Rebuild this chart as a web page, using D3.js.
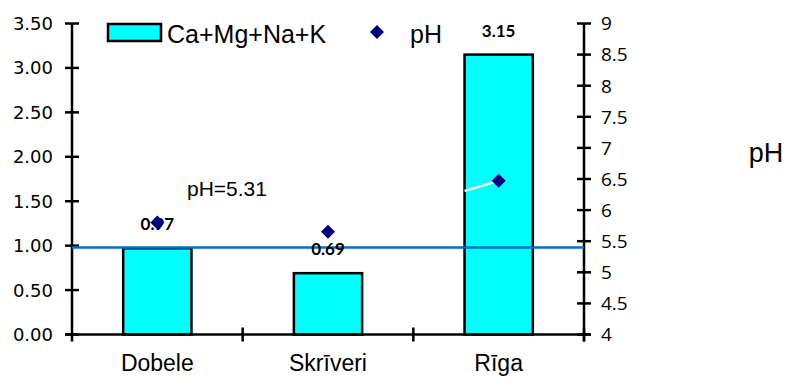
<!DOCTYPE html>
<html><head><meta charset="utf-8">
<script src="https://cdn.jsdelivr.net/npm/d3@7"></script>
<style>html,body{margin:0;padding:0;background:#fff;}svg{display:block;}</style>
</head><body>
<svg id="c" width="787" height="378"></svg>
<script>
const categories = ["Dobele", "Skrīveri", "Rīga"];
const cationValues = [0.97, 0.69, 3.15];
const phValues = [5.80, 5.65, 6.47];
const leftTicks = [0, 0.5, 1, 1.5, 2, 2.5, 3, 3.5];
const rightTicks = [4, 4.5, 5, 5.5, 6, 6.5, 7, 7.5, 8, 8.5, 9];
const refPh = 5.40;
const refLabel = "pH=5.31";
const seriesNames = ["Ca+Mg+Na+K", "pH"];

const svg = d3.select("#c");
const L = 72, R = 584, T = 23.5, B = 334.5;
const x = d3.scaleBand().domain(categories).range([L, R]).padding(0);
const yL = d3.scaleLinear().domain([0, 3.5]).range([B, T]);
const yR = d3.scaleLinear().domain([4, 9]).range([B, T]);
const bw = x.bandwidth() * 0.4;

// bars
svg.selectAll("rect.bar").data(categories).enter().append("rect")
  .attr("x", d => x(d) + (x.bandwidth() - bw) / 2)
  .attr("y", (d, i) => yL(cationValues[i]))
  .attr("width", bw)
  .attr("height", (d, i) => B - yL(cationValues[i]))
  .attr("fill", "#00ffff").attr("stroke", "#000").attr("stroke-width", 2.5);

// axes lines
const ax = svg.append("g").attr("stroke", "#000").attr("stroke-width", 2.5);
ax.append("line").attr("x1", L).attr("x2", L).attr("y1", T).attr("y2", B + 7);
ax.append("line").attr("x1", R).attr("x2", R).attr("y1", T).attr("y2", B + 7);
ax.append("line").attr("x1", L - 7).attr("x2", R + 7).attr("y1", B).attr("y2", B);
leftTicks.forEach(t => ax.append("line").attr("x1", L - 7).attr("x2", L + 7).attr("y1", yL(t)).attr("y2", yL(t)));
rightTicks.forEach(t => ax.append("line").attr("x1", R - 7).attr("x2", R + 7).attr("y1", yR(t)).attr("y2", yR(t)));
categories.forEach(c => { const xx = x(c) + x.bandwidth(); ax.append("line").attr("x1", xx).attr("x2", xx).attr("y1", B - 7).attr("y2", B + 7); });

// tick labels
svg.selectAll("text.lt").data(leftTicks).enter().append("text")
  .attr("x", 53).attr("y", d => yL(d)).attr("dy", "0.36em").attr("text-anchor", "end")
  .attr("font-family", "DejaVu Sans").attr("font-size", 18).text(d => d.toFixed(2));
svg.selectAll("text.rt").data(rightTicks).enter().append("text")
  .attr("x", 601).attr("y", d => yR(d)).attr("dy", "0.36em")
  .attr("font-family", "Open Sans").attr("font-size", 19).text(d => String(d));
svg.selectAll("text.cat").data(categories).enter().append("text")
  .attr("x", d => x(d) + x.bandwidth() / 2).attr("y", 371).attr("text-anchor", "middle")
  .attr("font-family", "Liberation Sans, Arial").attr("font-size", 23).text(d => d);

// reference line
svg.append("line").attr("x1", L).attr("x2", R).attr("y1", yR(refPh)).attr("y2", yR(refPh))
  .attr("stroke", "#0070c0").attr("stroke-width", 2.5);
svg.append("text").attr("x", 187).attr("y", 196).attr("font-family", "Liberation Sans, Arial")
  .attr("font-size", 21).text(refLabel);

// white leader line in Rīga bar
const ri = 2;
svg.append("line").attr("x1", x(categories[ri]) + (x.bandwidth() - bw) / 2).attr("y1", yR(phValues[ri]) + 10)
  .attr("x2", x(categories[ri]) + x.bandwidth() / 2).attr("y2", yR(phValues[ri]))
  .attr("stroke", "#fff").attr("stroke-width", 2.5);

// value labels
svg.selectAll("text.val").data(categories).enter().append("text")
  .attr("x", d => x(d) + x.bandwidth() / 2).attr("y", (d, i) => yL(cationValues[i]) - 18)
  .attr("text-anchor", "middle").attr("font-family", "Lato").attr("font-weight", "bold")
  .attr("font-size", 17).text((d, i) => cationValues[i].toFixed(2));

// pH diamonds
const diamond = d3.symbol().type(d3.symbolDiamond2).size(125);
svg.selectAll("path.ph").data(categories).enter().append("path")
  .attr("d", diamond)
  .attr("transform", (d, i) => `translate(${x(d) + x.bandwidth() / 2},${yR(phValues[i])})`)
  .attr("fill", "#000080");

// legend
svg.append("rect").attr("x", 108).attr("y", 24).attr("width", 53).attr("height", 17)
  .attr("fill", "#00ffff").attr("stroke", "#000").attr("stroke-width", 2.5);
svg.append("text").attr("x", 167).attr("y", 43).attr("font-family", "Liberation Sans, Arial")
  .attr("font-size", 25).text(seriesNames[0]);
svg.append("path").attr("d", diamond).attr("transform", "translate(377,32)").attr("fill", "#000080");
svg.append("text").attr("x", 410).attr("y", 43).attr("font-family", "Liberation Sans, Arial")
  .attr("font-size", 25).text(seriesNames[1]);

// right axis title
svg.append("text").attr("x", 766).attr("y", 162).attr("text-anchor", "middle")
  .attr("font-family", "Liberation Sans, Arial").attr("font-size", 27).text("pH");
</script>
</body></html>
